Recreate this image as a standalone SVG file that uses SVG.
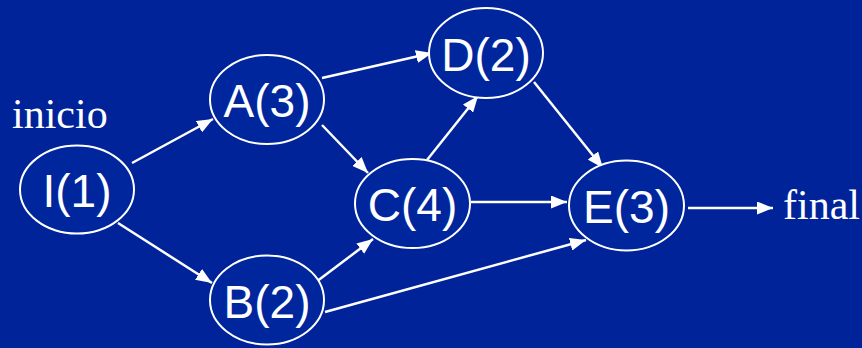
<svg xmlns="http://www.w3.org/2000/svg" width="862" height="348" viewBox="0 0 862 348">
<style>
.node ellipse{fill:#00269e;stroke:#ffffff;stroke-width:2}
.node text{font-family:"Liberation Sans",Arial,sans-serif;font-size:46px;fill:#ffffff;text-anchor:middle}
.lbl{font-family:"Liberation Serif","Times New Roman",serif;font-size:42px;fill:#ffffff}
#edges line{stroke:#ffffff;stroke-width:2.5;marker-end:url(#ah)}
</style>
<defs>
<marker id="ah" viewBox="0 0 16 13" refX="16" refY="6.5" markerWidth="16" markerHeight="13" markerUnits="userSpaceOnUse" orient="auto">
<path d="M0,0 L16,6.5 L0,13 Z" fill="#ffffff"/>
</marker>
</defs>
<rect width="862" height="348" fill="#00239a"/>
<text class="lbl" x="12" y="128">inicio</text>
<text class="lbl" x="783" y="219">final</text>
<g id="edges">
<line x1="132" y1="163" x2="213" y2="119"/>
<line x1="118" y1="223" x2="212" y2="283"/>
<line x1="322" y1="78" x2="432" y2="53"/>
<line x1="322" y1="125" x2="368" y2="173"/>
<line x1="427" y1="160" x2="478" y2="96"/>
<line x1="534" y1="82" x2="603" y2="168"/>
<line x1="471" y1="202" x2="567" y2="202"/>
<line x1="316" y1="282" x2="373" y2="239"/>
<line x1="325" y1="312" x2="586" y2="240"/>
<line x1="688" y1="208" x2="773" y2="208"/>
</g>
<g id="nodeI" class="node"><ellipse cx="77" cy="189.5" rx="57" ry="44"/><text x="77" y="207">I(1)</text></g>
<g id="nodeA" class="node"><ellipse cx="267" cy="99.5" rx="57" ry="44.5"/><text x="267" y="117">A(3)</text></g>
<g id="nodeB" class="node"><ellipse cx="267" cy="300" rx="57" ry="44.5"/><text x="267" y="317.5">B(2)</text></g>
<g id="nodeC" class="node"><ellipse cx="412.5" cy="203.5" rx="57.5" ry="44.5"/><text x="412.5" y="221">C(4)</text></g>
<g id="nodeD" class="node"><ellipse cx="486" cy="53" rx="57" ry="45"/><text x="486" y="70.5">D(2)</text></g>
<g id="nodeE" class="node"><ellipse cx="626.5" cy="205.5" rx="57.5" ry="45"/><text x="626.5" y="223">E(3)</text></g>
</svg>
